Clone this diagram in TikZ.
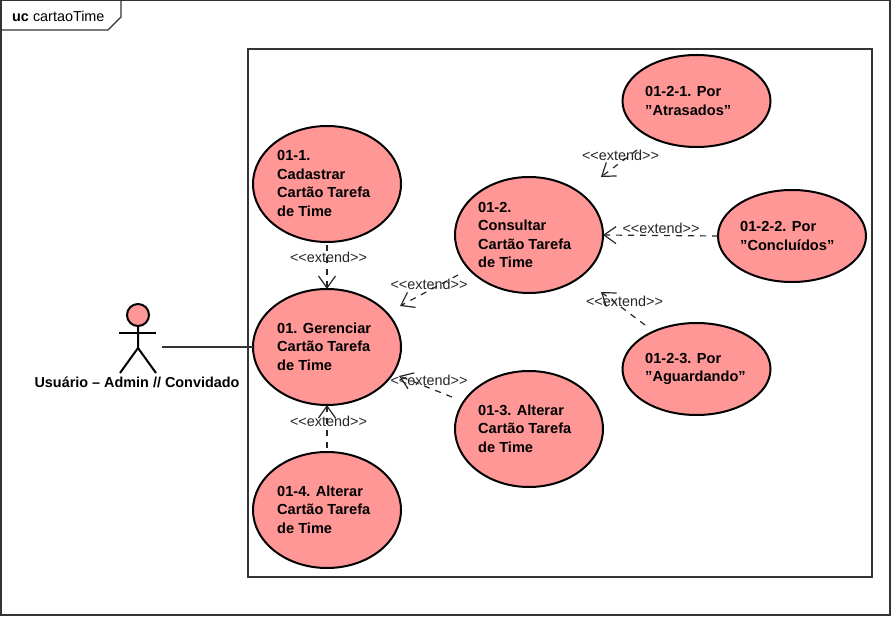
\documentclass[tikz,border=0pt]{standalone}
\usepackage{fontspec}
\setmainfont{Liberation Sans}
\usetikzlibrary{shapes.geometric,arrows.meta}
\definecolor{ucfill}{HTML}{FF9797}
\definecolor{framec}{HTML}{333333}
\tikzset{
  x=1pt,y=-1pt,
  uc/.style={ellipse,draw=black,line width=2pt,fill=ucfill,inner sep=0pt,outer sep=0pt,minimum width=148pt,minimum height=116pt},
  ucs/.style={uc,minimum height=92pt},
  uctext/.style={anchor=west,align=left,inner sep=0pt,font=\fontsize{14.6}{18.5}\selectfont\bfseries},
  extlabel/.style={inner sep=0pt,text=black!85,font=\fontsize{14.4}{17}\selectfont},
  ext/.style={draw=black!85,line width=1.2pt,dash pattern=on 6pt off 6pt,-{Straight Barb[length=12pt,width=17pt,line width=1.2pt]}},
  framebox/.style={draw=framec,line width=1.2pt},
  stick/.style={draw=black,line width=2pt},
}
\begin{document}
\begin{tikzpicture}
\useasboundingbox (0,0) rectangle (895,617);
% frames
\draw[framebox] (1,0) rectangle (890,615);
\draw[framebox] (1,30) -- (108,30) -- (121,17) -- (121,0);
\node[anchor=west,inner sep=0pt,font=\fontsize{14.4}{17}\selectfont] (title) at (12,16) {\textbf{uc} cartaoTime};
\draw[framebox] (248,49) rectangle (872,577);
% use cases
\node[uc] (n1) at (327,184) {};
\node[uc] (n0) at (327,347) {};
\node[uc] (n4) at (327,510) {};
\node[uc] (n2) at (529,235) {};
\node[uc] (n3) at (529,429) {};
\node[ucs] (n21) at (696.5,101) {};
\node[ucs] (n22) at (792,236) {};
\node[ucs] (n23) at (696.5,369) {};
\node[uctext] (t1) at (277,183.5) {01-1.\\Cadastrar\\Cartão Tarefa\\de Time};
\node[uctext] (t0) at (277,346.5) {01. Gerenciar\\Cartão Tarefa\\de Time};
\node[uctext] (t4) at (277,509.5) {01-4. Alterar\\Cartão Tarefa\\de Time};
\node[uctext] (t2) at (478,235) {01-2.\\Consultar\\Cartão Tarefa\\de Time};
\node[uctext] (t3) at (478,428.5) {01-3. Alterar\\Cartão Tarefa\\de Time};
\node[uctext] (t21) at (645,101) {01-2-1. Por\\"Atrasados"};
\node[uctext] (t22) at (740,236) {01-2-2. Por\\"Concluídos"};
\node[uctext] (t23) at (645,369) {01-2-3. Por\\"Aguardando"};
% actor
\node[circle,stick,fill=ucfill,inner sep=0pt,outer sep=0pt,minimum size=22pt] (head) at (138,315) {};
\coordinate (neck) at (138,326);
\coordinate (hip) at (138,348);
\coordinate (armL) at (119,333);
\coordinate (armR) at (156,333);
\coordinate (legL) at (120,373);
\coordinate (legR) at (156,373);
\draw[stick] (head.south) -- (hip) -- (legL);
\draw[stick] (hip) -- (legR);
\draw[stick] (armL) -- (armR);
\node[inner sep=0pt,font=\fontsize{14.4}{17}\selectfont\bfseries] (actor) at (137,382) {Usuário -- Admin // Convidado};
\coordinate (actorEnd) at (162,347);
\draw[draw=framec,line width=1.4pt] (actorEnd) -- (n0.west);
% connector free ends
\coordinate (s1) at (327,245);
\coordinate (s2) at (458,275);
\coordinate (e2) at (400,306);
\coordinate (s3) at (452,397);
\coordinate (e3) at (399,376);
\coordinate (s4) at (327,448);
\coordinate (s21) at (637,150);
\coordinate (e21) at (601,177);
\coordinate (s23) at (645,325);
\coordinate (e23) at (601,292);
\draw[ext] (s1) -- (n0.north);
\draw[ext] (s2) -- (e2);
\draw[ext] (s3) -- (e3);
\draw[ext] (s4) -- (n0.south);
\draw[ext] (s21) -- (e21);
\draw[ext] (n22.west) -- (n2.east);
\draw[ext] (s23) -- (e23);
% labels
\node[extlabel] (l1) at (328.5,257) {<{}<extend>{}>};
\node[extlabel] (l2) at (429,284) {<{}<extend>{}>};
\node[extlabel] (l3) at (429,380) {<{}<extend>{}>};
\node[extlabel] (l4) at (328.5,421) {<{}<extend>{}>};
\node[extlabel] (l21) at (620.5,155) {<{}<extend>{}>};
\node[extlabel] (l22) at (661,228) {<{}<extend>{}>};
\node[extlabel] (l23) at (624.5,301) {<{}<extend>{}>};
\end{tikzpicture}
\end{document}
